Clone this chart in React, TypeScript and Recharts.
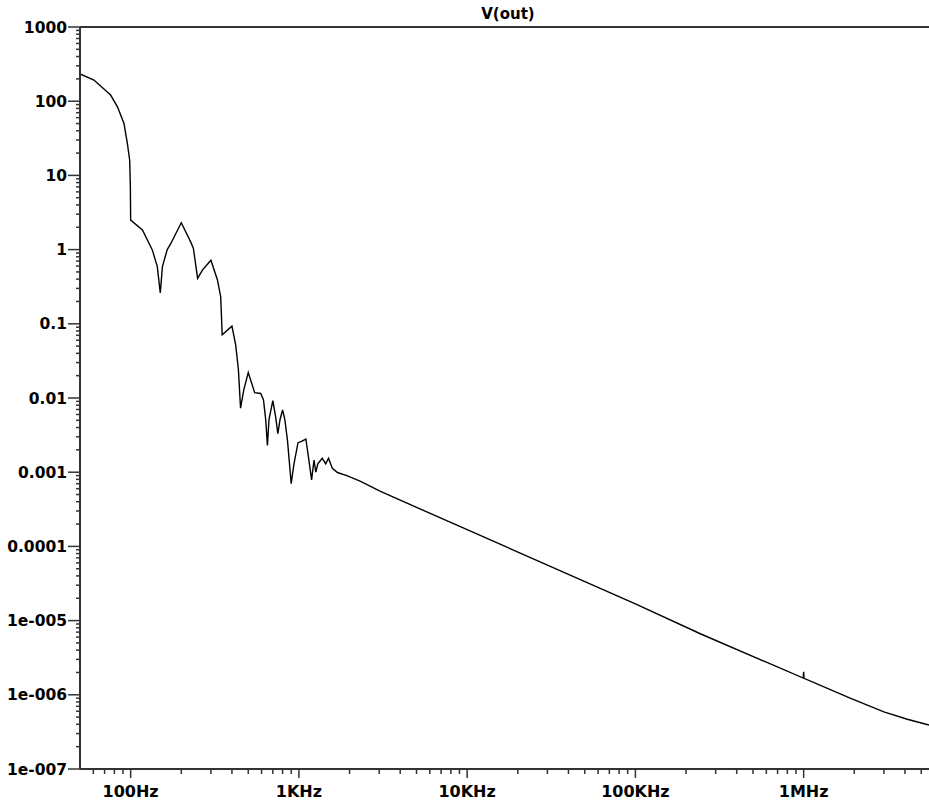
import { LineChart, Line, XAxis, YAxis, ReferenceLine } from 'recharts';

// frequency (Hz) and V(out) magnitude
const freqHz = [
    50, 60.5, 76, 83.5, 91.3, 95.6, 98.7, 99.6, 100,
    117.5, 134.5, 144, 150, 154.5, 165, 173, 200, 227, 236, 250, 267, 300,
    328, 343, 350, 400, 421, 437, 450, 470, 500, 546, 593, 616, 635, 650,
    664, 700, 727, 750, 772, 800, 825, 855, 900, 935, 988, 1036, 1100,
    1140, 1190, 1230, 1260, 1296, 1376, 1443, 1500, 1580, 1695, 1945, 2326,
    3055, 10000, 100000, 245000, 995000, 1000000, 1005000, 1905000,
    3000000, 4130000, 5560000,
];
const vout = [
    233, 193, 121, 84, 50, 27, 16, 7, 2.5,
    1.84, 0.99, 0.59, 0.26, 0.59, 1.0, 1.2, 2.3, 1.28, 1.04, 0.41, 0.53, 0.72,
    0.39, 0.23, 0.071, 0.093, 0.052, 0.024, 0.0073, 0.0128, 0.022, 0.0118, 0.0115, 0.0094, 0.0051, 0.0023,
    0.0051, 0.0092, 0.0056, 0.0033, 0.0051, 0.0069, 0.0051, 0.0027, 0.0007, 0.0013, 0.0025, 0.0026, 0.0028,
    0.0016, 0.00079, 0.00146, 0.001, 0.0013, 0.00154, 0.0013, 0.00154, 0.00113, 0.00099, 0.00089, 0.00075,
    0.00055, 1.68e-4, 1.68e-5, 6.6e-6, 1.68e-6, 2.05e-6, 1.67e-6, 8.97e-7,
    5.9e-7, 4.68e-7, 3.92e-7,
];

const xMajorTicks = [100, 1000, 10000, 100000, 1000000];
const xTickLabels = ['100Hz', '1KHz', '10KHz', '100KHz', '1MHz'];
const yMajorTicks = [1e-7, 1e-6, 1e-5, 1e-4, 1e-3, 0.01, 0.1, 1, 10, 100, 1000];
const yTickLabels = ['1e-007', '1e-006', '1e-005', '0.0001', '0.001', '0.01', '0.1', '1', '10', '100', '1000'];
const minorSteps = [2, 3, 4, 5, 6, 7, 8, 9];

const X_MIN = 50;
const X_MAX = 5.56e6;

const data = freqHz.map((f, i) => ({ f, v: vout[i] }));

const xTicks = [10, ...xMajorTicks]
    .flatMap((d) => [d, ...minorSteps.map((m) => m * d)])
    .filter((t) => t > X_MIN && t < X_MAX);
const yTicks = yMajorTicks.flatMap((d, i) =>
    i < yMajorTicks.length - 1 ? [d, ...minorSteps.map((m) => m * d)] : [d]
);

const AXIS = '#333';
const FONT = '"DejaVu Sans", Arial, sans-serif';

const XTick = (props: any) => {
    const { x, y, payload } = props;
    const i = xMajorTicks.indexOf(payload.value);
    const major = i >= 0;
    return (
        <g>
            <line x1={x} x2={x} y1={y} y2={y + (major ? 9 : 5)} stroke={AXIS} strokeWidth={1.5} />
            {major && (
                <text x={x} y={y + 28} textAnchor="middle" fontFamily={FONT} fontWeight="bold" fontSize={16} fill="#000">
                    {xTickLabels[i]}
                </text>
            )}
        </g>
    );
};

const YTick = (props: any) => {
    const { x, y, payload } = props;
    const i = yMajorTicks.indexOf(payload.value);
    const major = i >= 0;
    return (
        <g>
            <line x1={x - (major ? 12 : 4)} x2={x} y1={y} y2={y} stroke={AXIS} strokeWidth={1.5} />
            {major && (
                <text x={x - 13} y={y + 5.5} textAnchor="end" fontFamily={FONT} fontWeight="bold" fontSize={15.5} fill="#000">
                    {yTickLabels[i]}
                </text>
            )}
        </g>
    );
};

export default function App() {
    return (
        <div style={{ position: 'absolute', left: 0, top: 0, width: 929, height: 805, background: '#fff', overflow: 'hidden' }}>
            <div
                style={{
                    position: 'absolute',
                    left: 458,
                    top: 6,
                    width: 100,
                    textAlign: 'center',
                    fontFamily: FONT,
                    fontWeight: 'bold',
                    fontSize: 15,
                    lineHeight: '16px',
                }}
            >
                V(out)
            </div>
            <LineChart width={929} height={805} data={data} margin={{ top: 27, right: 0, left: 0, bottom: 0 }}>
                <XAxis
                    dataKey="f"
                    type="number"
                    scale="log"
                    domain={[X_MIN, X_MAX]}
                    allowDataOverflow
                    ticks={xTicks}
                    interval={0}
                    tickSize={0}
                    tickMargin={0}
                    tickLine={false}
                    tick={<XTick />}
                    height={36}
                    axisLine={{ stroke: AXIS, strokeWidth: 2 }}
                />
                <YAxis
                    dataKey="v"
                    type="number"
                    scale="log"
                    domain={[1e-7, 1000]}
                    allowDataOverflow
                    ticks={yTicks}
                    interval={0}
                    tickSize={0}
                    tickMargin={0}
                    tickLine={false}
                    tick={<YTick />}
                    width={80}
                    axisLine={{ stroke: AXIS, strokeWidth: 2 }}
                />
                <ReferenceLine y={1000} stroke={AXIS} strokeWidth={2} />
                <Line
                    type="linear"
                    dataKey="v"
                    stroke="#000"
                    strokeWidth={1.4}
                    dot={false}
                    isAnimationActive={false}
                />
            </LineChart>
        </div>
    );
}
